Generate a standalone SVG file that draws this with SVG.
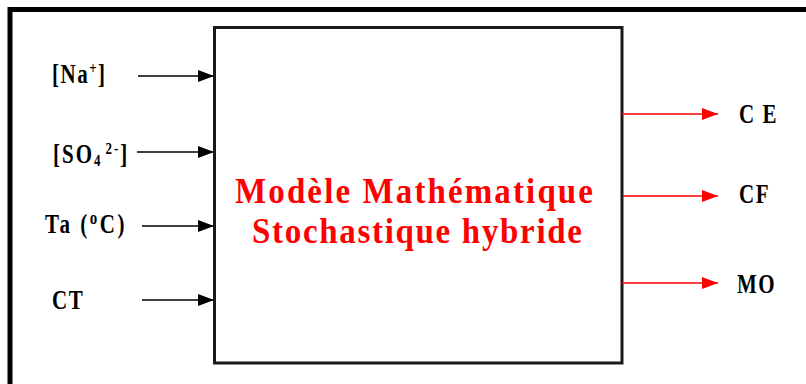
<svg xmlns="http://www.w3.org/2000/svg" width="806" height="384" viewBox="0 0 806 384">
<defs>
<style>
.lbl{font-family:"Liberation Serif","Times New Roman",serif;font-weight:bold;font-size:21px;fill:#000;letter-spacing:1.5px}
.ttl{font-family:"Liberation Serif","Times New Roman",serif;font-weight:bold;font-size:33px;fill:#ff0000}
.sm{font-size:13px}
.in{stroke:#000;stroke-width:1.6;fill:none}
.out{stroke:#ff0000;stroke-width:1.6;fill:none}
</style>
<marker id="ab" markerUnits="userSpaceOnUse" markerWidth="16" markerHeight="12" refX="16" refY="6" orient="auto">
<path d="M0,0 L16,6 L0,12 Z" fill="#000"/>
</marker>
<marker id="ar" markerUnits="userSpaceOnUse" markerWidth="16" markerHeight="12" refX="16" refY="6" orient="auto">
<path d="M0,0 L16,6 L0,12 Z" fill="#ff0000"/>
</marker>
</defs>
<rect width="806" height="384" fill="#fff"/>
<g id="frame">
<path d="M10,384 V9.5 H806" stroke="#000" stroke-width="5" fill="none"/>
</g>
<g id="model">
<rect x="214.5" y="27.5" width="407.5" height="335.5" fill="#fff" stroke="#1a1a1a" stroke-width="3"/>
<g transform="translate(414,203) scale(1,1.06)"><text class="ttl" x="0" y="0" text-anchor="middle" textLength="358" lengthAdjust="spacing">Modèle Mathématique</text></g>
<g transform="translate(417,243) scale(1,1.06)"><text class="ttl" x="0" y="0" text-anchor="middle" textLength="330" lengthAdjust="spacing">Stochastique hybride</text></g>
</g>
<g id="in-na">
<g transform="translate(52,83) scale(1,1.25)"><text class="lbl" x="0" y="0">[Na<tspan class="sm" dy="-7">+</tspan><tspan dy="7">]</tspan></text></g>
</g>
<g id="in-so4">
<g transform="translate(53,163) scale(1,1.25)"><text class="lbl" x="0" y="0" style="letter-spacing:2px">[SO<tspan class="sm" dy="2">4</tspan><tspan class="sm" dx="3" dy="-9">2-</tspan><tspan dy="7">]</tspan></text></g>
</g>
<g id="in-ta">
<g transform="translate(45,233) scale(1,1.25)"><text class="lbl" x="0" y="0" style="letter-spacing:2.5px">Ta (<tspan style="font-size:15px" dy="-7">o</tspan><tspan dy="7">C)</tspan></text></g>
</g>
<g id="in-ct">
<g transform="translate(52,309) scale(1,1.25)"><text class="lbl" x="0" y="0">CT</text></g>
</g>
<g id="out-ce">
<g transform="translate(739,123) scale(1,1.25)"><text class="lbl" x="0" y="0">C E</text></g>
</g>
<g id="out-cf">
<g transform="translate(739,203) scale(1,1.25)"><text class="lbl" x="0" y="0">CF</text></g>
</g>
<g id="out-mo">
<g transform="translate(737,293) scale(1,1.25)"><text class="lbl" x="0" y="0">MO</text></g>
</g>
<g id="connectors">
<line class="in" x1="138" y1="76" x2="214" y2="76" marker-end="url(#ab)"/>
<line class="in" x1="137" y1="152" x2="214" y2="152" marker-end="url(#ab)"/>
<line class="in" x1="142" y1="226" x2="214" y2="226" marker-end="url(#ab)"/>
<line class="in" x1="142" y1="300" x2="214" y2="300" marker-end="url(#ab)"/>
<line class="out" x1="622" y1="114" x2="718" y2="114" marker-end="url(#ar)"/>
<line class="out" x1="623" y1="196" x2="718" y2="196" marker-end="url(#ar)"/>
<line class="out" x1="622" y1="283" x2="718" y2="283" marker-end="url(#ar)"/>
</g>
</svg>
